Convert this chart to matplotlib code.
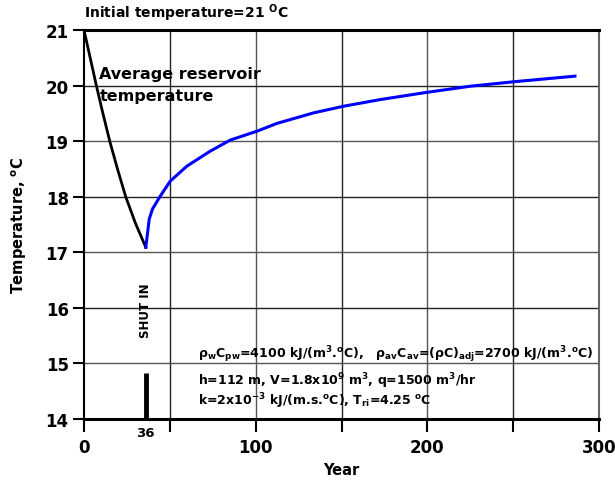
import matplotlib
matplotlib.use("Agg")
import matplotlib.pyplot as plt
from matplotlib.ticker import FixedLocator, FixedFormatter

plt.rcParams['font.family'] = ['DejaVu Sans']
plt.rcParams['font.weight'] = 'bold'
plt.rcParams['mathtext.fontset'] = 'dejavusans'
plt.rcParams['mathtext.default'] = 'bf'

# Data
prod_years = [0, 3.6, 7.2, 11.0, 15.0, 19.5, 24.3, 30.0, 36]
prod_temp = [21.0, 20.5, 20.0, 19.5, 19.0, 18.5, 18.0, 17.52, 17.09]

rec_years = [36, 38, 39.9, 44.4, 50.2, 59.9, 73.5, 85.2, 100.8, 112.4, 133.8,
             151.4, 172.8, 200, 225.3, 250.6, 286]
rec_temp = [17.09, 17.6, 17.78, 18.01, 18.28, 18.55, 18.82, 19.02, 19.18, 19.32,
            19.51, 19.63, 19.75, 19.88, 19.99, 20.07, 20.17]

shut_in_year = 36
shut_in_bar = [14.0, 14.83]

x_ticks = [0, 50, 100, 150, 200, 250, 300]
x_tick_labels = ['0', '', '100', '', '200', '', '300']
y_ticks = [14, 15, 16, 17, 18, 19, 20, 21]

fig = plt.figure(figsize=(6.15, 4.85), dpi=100)
ax = fig.add_axes([0.1366, 0.134, 0.8374, 0.802])

ax.set_xlim(0, 300)
ax.set_ylim(14, 21)

for i, x in enumerate(x_ticks[1:-1]):
    ax.axvline(x, color='#222222' if i % 2 == 0 else '#555555', lw=1.0, zorder=1)
for i, y in enumerate(y_ticks[1:-1]):
    ax.axhline(y, color='#555555' if i % 2 == 0 else '#222222', lw=1.0, zorder=1)

ax.plot(prod_years, prod_temp, color='black', lw=2.0, zorder=3)
ax.plot(rec_years, rec_temp, color='#0000ff', lw=2.2, zorder=3)
ax.plot([shut_in_year, shut_in_year], shut_in_bar, color='black', lw=3.5,
        solid_capstyle='butt', zorder=3)

ax.xaxis.set_major_locator(FixedLocator(x_ticks))
ax.xaxis.set_major_formatter(FixedFormatter(x_tick_labels))
ax.xaxis.set_minor_locator(FixedLocator([shut_in_year]))
ax.xaxis.set_minor_formatter(FixedFormatter([str(shut_in_year)]))
ax.tick_params(axis='x', which='major', direction='out', length=9, width=1.5,
               labelsize=12, pad=5)
ax.tick_params(axis='x', which='minor', length=0, labelsize=9.5, pad=5)
ax.set_yticks(y_ticks)
ax.tick_params(axis='y', direction='out', length=8, width=1.5, labelsize=12, pad=3)
for lab in ax.get_xticklabels() + ax.get_yticklabels() + ax.get_xminorticklabels():
    lab.set_fontweight('bold')

for side in ['top', 'bottom']:
    ax.spines[side].set_linewidth(2.2)
    ax.spines[side].set_color('black')
ax.spines['left'].set_linewidth(1.5)
ax.spines['right'].set_linewidth(1.5)
ax.spines['right'].set_color('#666666')

ax.set_xlabel('Year', fontsize=10.5, fontweight='bold', labelpad=4)
ax.set_ylabel('Temperature, $^o$C', fontsize=10.5, fontweight='bold', labelpad=12)

ax.text(0.0, 1.018, 'Initial temperature=21 $^O$C', transform=ax.transAxes,
        fontsize=10, fontweight='bold', ha='left', va='bottom')
ax.text(9, 20.02, 'Average reservoir\ntemperature', fontsize=11.5, fontweight='bold',
        ha='left', va='center', linespacing=1.6)
ax.text(shut_in_year, 15.97, 'SHUT IN', rotation=90, fontsize=8.5, fontweight='bold',
        ha='center', va='center')

ax.text(66.5, 15.17, r'$\rho_w C_{pw}$=4100 kJ/(m$^3$.$^o$C),   $\rho_{av} C_{av}$=($\rho$C)$_{adj}$=2700 kJ/(m$^3$.$^o$C)',
        fontsize=9, fontweight='bold', ha='left', va='center')
ax.text(66.5, 14.70, r'h=112 m, V=1.8x10$^9$ m$^3$, q=1500 m$^3$/hr',
        fontsize=9, fontweight='bold', ha='left', va='center')
ax.text(66.5, 14.34, r'k=2x10$^{-3}$ kJ/(m.s.$^o$C), T$_{ri}$=4.25 $^o$C',
        fontsize=9, fontweight='bold', ha='left', va='center')

fig.savefig('out.png', dpi=100)
